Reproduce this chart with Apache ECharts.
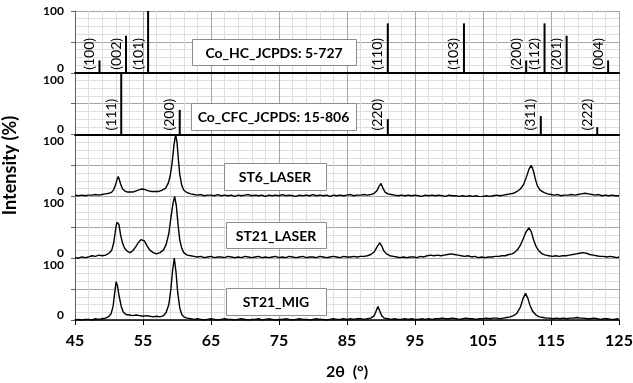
<!DOCTYPE html>
<html><head><meta charset="utf-8">
<script src="https://cdn.jsdelivr.net/npm/echarts@6/dist/echarts.min.js"></script>
<style>html,body{margin:0;padding:0;background:#fff}#c{width:633px;height:383px}</style>
</head><body><div id="c"></div>
<script>
// Reference patterns (JCPDS)
const hcPos = [48.6, 52.5, 55.75, 91.0, 102.2, 111.35, 114.05, 117.3, 123.4];
const hcInt = [20, 60, 100, 80, 80, 20, 80, 60, 20];
const hcHkl = ['(100)','(002)','(101)','(110)','(103)','(200)','(112)','(201)','(004)'];
const cfcPos = [51.8, 60.4, 91.0, 113.5, 121.8];
const cfcInt = [100, 40, 25, 30, 12];
const cfcHkl = ['(111)','(200)','(220)','(311)','(222)'];

const panelNames = ['Co_HC_JCPDS: 5-727', 'Co_CFC_JCPDS: 15-806', 'ST6_LASER', 'ST21_LASER', 'ST21_MIG'];
const xTicks = [45, 55, 65, 75, 85, 95, 105, 115, 125];
const yTickLabels = ['0', '100'];

const st6Laser = [[45,2],[45.5,1],[46,2],[46.5,1],[47,2],[47.5,2],[48,3],[48.5,2],[49,3],[49.5,4],[50,5],[50.4,7],[50.7,11],[51.0,20],[51.2,28],[51.35,32],[51.5,28],[51.7,20],[52.0,12],[52.3,9],[52.7,7],[53.0,7],[53.5,7],[54,9],[54.5,11],[54.9,12],[55.3,11],[55.8,9],[56.3,8],[56.8,8],[57.3,8],[57.8,10],[58.3,13],[58.7,21],[59.0,33],[59.3,56],[59.55,83],[59.8,100],[60.0,88],[60.2,60],[60.4,36],[60.7,18],[61.0,10],[61.5,6],[62,4],[62.5,3],[63,2],[63.5,3],[64,1],[64.5,2],[65,2],[65.5,1],[66,3],[66.5,1],[67,2],[67.5,1],[68,2],[68.5,0],[69,2],[69.5,1],[70,2],[70.5,3],[71,1],[71.5,2],[72,1],[72.5,2],[73,0],[73.5,2],[74,1],[74.5,2],[75,1],[75.5,3],[76,1],[76.5,2],[77,1],[77.5,0],[78,2],[78.5,1],[79,2],[79.5,1],[80,3],[80.5,1],[81,2],[81.5,1],[82,2],[82.5,0],[83,2],[83.5,1],[84,2],[84.5,1],[85,2],[85.5,3],[86,1],[86.5,2],[87,2],[87.5,3],[88,2],[88.5,3],[89,5],[89.4,9],[89.7,16],[90.0,21],[90.3,13],[90.6,7],[91,4],[91.5,3],[92,2],[92.5,1],[93,2],[93.5,1],[94,2],[94.5,1],[95,2],[95.5,1],[96,0],[96.5,2],[97,1],[97.5,2],[98,1],[98.5,2],[99,1],[99.5,0],[100,2],[100.5,1],[101,1],[101.5,0],[102,1],[102.5,0],[103,1],[103.5,0],[104,1],[104.5,-1],[105,0],[105.5,1],[106,0],[106.5,1],[107,2],[107.5,1],[108,2],[108.5,3],[109,4],[109.5,5],[110,8],[110.5,12],[111,20],[111.4,32],[111.8,45],[112.1,50],[112.4,42],[112.7,28],[113,17],[113.4,10],[114,6],[114.5,4],[115,3],[115.5,2],[116,3],[116.5,1],[117,2],[117.5,2],[118,3],[118.5,2],[119,3],[119.5,4],[120,5],[120.5,4],[121,3],[121.5,2],[122,3],[122.5,1],[123,2],[123.5,1],[124,2],[124.5,1],[125,1]];

const st21Laser = [[45,1],[45.5,0],[46,2],[46.5,1],[47,2],[47.5,4],[48,3],[48.5,5],[49,4],[49.5,5],[50,8],[50.4,13],[50.7,25],[50.95,45],[51.15,58],[51.3,61],[51.45,55],[51.7,38],[52.0,24],[52.3,16],[52.7,11],[53.1,9],[53.5,12],[53.9,18],[54.3,25],[54.7,30],[54.95,31],[55.2,28],[55.6,20],[56.0,13],[56.5,9],[57.0,7],[57.5,9],[58.0,13],[58.4,22],[58.8,40],[59.1,65],[59.4,88],[59.65,100],[59.9,85],[60.15,55],[60.4,30],[60.7,16],[61.0,9],[61.5,5],[62,4],[62.5,3],[63,2],[63.5,3],[64,1],[64.5,2],[65,3],[65.5,1],[66,2],[66.5,2],[67,1],[67.5,3],[68,2],[68.5,1],[69,2],[69.5,1],[70,3],[70.5,2],[71,1],[71.5,2],[72,3],[72.5,1],[73,2],[73.5,1],[74,2],[74.5,3],[75,1],[75.5,2],[76,1],[76.5,3],[77,2],[77.5,1],[78,2],[78.5,3],[79,1],[79.5,2],[80,2],[80.5,1],[81,3],[81.5,2],[82,1],[82.5,2],[83,3],[83.5,2],[84,1],[84.5,3],[85,2],[85.5,2],[86,3],[86.5,2],[87,3],[87.5,3],[88,4],[88.5,6],[89,10],[89.4,18],[89.8,25],[90.1,20],[90.4,12],[90.8,7],[91.3,4],[91.8,3],[92.3,2],[92.8,1],[93.3,2],[93.8,1],[94.3,2],[94.8,2],[95.3,1],[95.8,3],[96.3,2],[96.8,4],[97.3,5],[97.8,4],[98.3,5],[98.8,4],[99.3,5],[99.8,6],[100.3,7],[100.8,6],[101.3,5],[101.8,4],[102.3,3],[102.8,4],[103.3,2],[103.8,3],[104.3,1],[104.8,2],[105.3,1],[105.8,2],[106.3,2],[106.8,3],[107.3,3],[107.8,4],[108.3,4],[108.8,6],[109.3,7],[109.7,10],[110.1,14],[110.5,21],[110.9,31],[111.3,42],[111.75,49],[112.1,43],[112.4,31],[112.8,19],[113.2,12],[113.7,7],[114.2,5],[114.7,4],[115.2,3],[115.7,4],[116.2,3],[116.7,4],[117.2,4],[117.7,5],[118.2,6],[118.7,7],[119.2,8],[119.7,9],[120.2,8],[120.7,6],[121.2,5],[121.7,4],[122.2,3],[122.7,3],[123.2,2],[123.7,3],[124.2,2],[124.7,1],[125,2]];

const st21Mig = [[45,0],[45.5,1],[46,0],[46.5,1],[47,1],[47.5,0],[48,2],[48.5,1],[49,2],[49.5,3],[50,6],[50.3,10],[50.6,22],[50.85,45],[51.05,62],[51.25,55],[51.5,38],[51.8,22],[52.1,13],[52.5,9],[53,8],[53.5,7],[54,8],[54.5,7],[55,6],[55.5,7],[56,6],[56.5,5],[57,6],[57.5,5],[58,7],[58.4,12],[58.8,25],[59.1,50],[59.35,80],[59.6,100],[59.85,78],[60.1,45],[60.4,20],[60.7,9],[61,5],[61.5,3],[62,2],[62.5,1],[63,2],[63.5,1],[64,0],[64.5,1],[65,2],[65.5,1],[66,0],[66.5,1],[67,2],[67.5,1],[68,1],[68.5,0],[69,1],[69.5,2],[70,1],[70.5,0],[71,1],[71.5,1],[72,2],[72.5,0],[73,1],[73.5,2],[74,1],[74.5,0],[75,1],[75.5,1],[76,2],[76.5,1],[77,0],[77.5,1],[78,2],[78.5,1],[79,1],[79.5,0],[80,1],[80.5,2],[81,1],[81.5,1],[82,0],[82.5,1],[83,2],[83.5,1],[84,1],[84.5,2],[85,1],[85.5,2],[86,1],[86.5,2],[87,2],[87.5,1],[88,2],[88.5,3],[89,7],[89.3,15],[89.55,22],[89.8,15],[90.1,7],[90.5,3],[91,2],[91.5,1],[92,2],[92.5,1],[93,1],[93.5,2],[94,1],[94.5,2],[95,1],[95.5,1],[96,2],[96.5,1],[97,2],[97.5,1],[98,2],[98.5,2],[99,3],[99.5,2],[100,2],[100.5,3],[101,2],[101.5,1],[102,2],[102.5,3],[103,2],[103.5,2],[104,1],[104.5,2],[105,2],[105.5,3],[106,2],[106.5,3],[107,3],[107.5,2],[108,3],[108.5,4],[109,5],[109.5,7],[110,11],[110.5,21],[110.9,35],[111.25,43],[111.6,35],[111.9,24],[112.3,14],[112.8,8],[113.3,5],[113.8,4],[114.3,3],[114.8,3],[115.3,2],[115.8,3],[116.3,2],[116.8,3],[117.3,2],[117.8,3],[118.3,3],[118.8,4],[119.3,3],[119.8,3],[120.3,2],[120.8,2],[121.3,3],[121.8,2],[122.3,1],[122.8,2],[123.3,2],[123.8,1],[124.3,1],[124.8,2],[125,1]];

const FONT = 'Lato';
const PH = 61.8, TOP0 = 11, LEFT = 75, RIGHT = 14;
const chart = echarts.init(document.getElementById('c'), null, {renderer: 'canvas'});

const grids = [], xAxes = [], yAxes = [];
for (let i = 0; i < 5; i++) {
  grids.push({left: LEFT, right: RIGHT, top: TOP0 + PH * i, height: PH, containLabel: false, outerBoundsMode: 'none'});
  xAxes.push({
    gridIndex: i, type: 'value', min: 45, max: 125, interval: 10,
    axisLine: {show: i < 2 || i === 4, onZero: true, lineStyle: {color: '#000', width: i < 2 ? 2 : 1.5}},
    axisTick: {show: i === 4, length: 5, lineStyle: {color: '#000', width: 1}},
    axisLabel: {show: i === 4, fontFamily: FONT, fontWeight: 'bold', fontSize: 16, color: '#000', margin: 13,
      formatter: v => xTicks.includes(v) ? String(v) : ''},
    splitLine: {show: true, lineStyle: {color: '#a6a6a6', width: 1}},
    minorTick: {show: false, splitNumber: 5},
    minorSplitLine: {show: true, lineStyle: {color: '#dedede', width: 1}},
    name: i === 4 ? '2θ  (°)' : '', nameLocation: 'middle', nameGap: 44,
    nameTextStyle: {fontFamily: FONT, fontWeight: 'bold', fontSize: 16, color: '#000'}
  });
  yAxes.push({
    gridIndex: i, type: 'value', min: 0, max: 100, interval: 50,
    axisLine: {show: true, onZero: false, lineStyle: {color: '#606060', width: 1}},
    axisTick: {show: true, length: 4, lineStyle: {color: '#606060'}},
    axisLabel: {
      fontFamily: FONT, fontWeight: 'bold', fontSize: 12, color: '#000', margin: 11,
      formatter: v => v === 0 ? '{lo|' + yTickLabels[0] + '}' : (v === 100 ? (i === 0 ? '{c|' + yTickLabels[1] + '}' : '{hi|' + yTickLabels[1] + '}') : ''),
      rich: {
        lo: {fontFamily: FONT, fontWeight: 'bold', fontSize: 12, color: '#000', padding: [0, 0, 10, 0]},
        hi: {fontFamily: FONT, fontWeight: 'bold', fontSize: 12, color: '#000', padding: [14, 0, 0, 0]},
        c: {fontFamily: FONT, fontWeight: 'bold', fontSize: 12, color: '#000'}
      }
    },
    splitLine: {show: true, lineStyle: {color: '#a6a6a6', width: 1}},
    minorTick: {show: false, splitNumber: 4},
    minorSplitLine: {show: true, lineStyle: {color: '#dedede', width: 1}},
    name: i === 2 ? 'Intensity (%)' : '', nameLocation: 'middle', nameGap: 56,
    nameTextStyle: {fontFamily: FONT, fontWeight: 'bold', fontSize: 18, color: '#000'}
  });
}

function stickSeries(idx, pos, inten, hkl, lift) {
  return {
    type: 'custom', xAxisIndex: idx, yAxisIndex: idx, z: 5,
    data: pos.map((p, k) => [p, inten[k]]),
    renderItem: (params, api) => {
      const x = api.value(0), h = api.value(1);
      const p0 = api.coord([x, 0]), p1 = api.coord([x, h]);
      return {type: 'group', children: [
        {type: 'line', shape: {x1: p0[0], y1: p0[1], x2: p1[0], y2: p1[1]}, style: {stroke: '#000', lineWidth: 2}},
        {type: 'text', x: p0[0] - 10, y: p0[1] - lift, rotation: Math.PI / 2,
          style: {text: hkl[params.dataIndex], font: '14px Lato', fill: '#000', align: 'left', verticalAlign: 'middle'}}
      ]};
    }
  };
}

function lineSeries(idx, data) {
  return {type: 'line', xAxisIndex: idx, yAxisIndex: idx, data: data, showSymbol: false, symbol: 'none',
    lineStyle: {color: '#000', width: 1.4}, z: 4};
}

const boxes = [
  [192, 39, 164, 26], [191, 103, 165, 27], [224, 163, 102, 27], [226, 222, 100, 26], [226, 288, 100, 27]
];
const graphic = [];
boxes.forEach((b, k) => {
  graphic.push({type: 'rect', z: 100, shape: {x: b[0] + 0.5, y: b[1] + 0.5, width: b[2], height: b[3]},
    style: {fill: '#fff', stroke: '#8c8c8c', lineWidth: 1}});
  graphic.push({type: 'text', z: 101, x: b[0] + b[2] / 2, y: b[1] + b[3] / 2 + 1,
    style: {text: panelNames[k], font: 'bold 14px Lato', fill: '#000', align: 'center', verticalAlign: 'middle'}});
});

chart.setOption({
  animation: false,
  backgroundColor: '#fff',
  grid: grids, xAxis: xAxes, yAxis: yAxes,
  series: [
    stickSeries(0, hcPos, hcInt, hcHkl, 3),
    stickSeries(1, cfcPos, cfcInt, cfcHkl, 4),
    lineSeries(2, st6Laser),
    lineSeries(3, st21Laser),
    lineSeries(4, st21Mig)
  ],
  graphic: graphic
});
</script></body></html>
